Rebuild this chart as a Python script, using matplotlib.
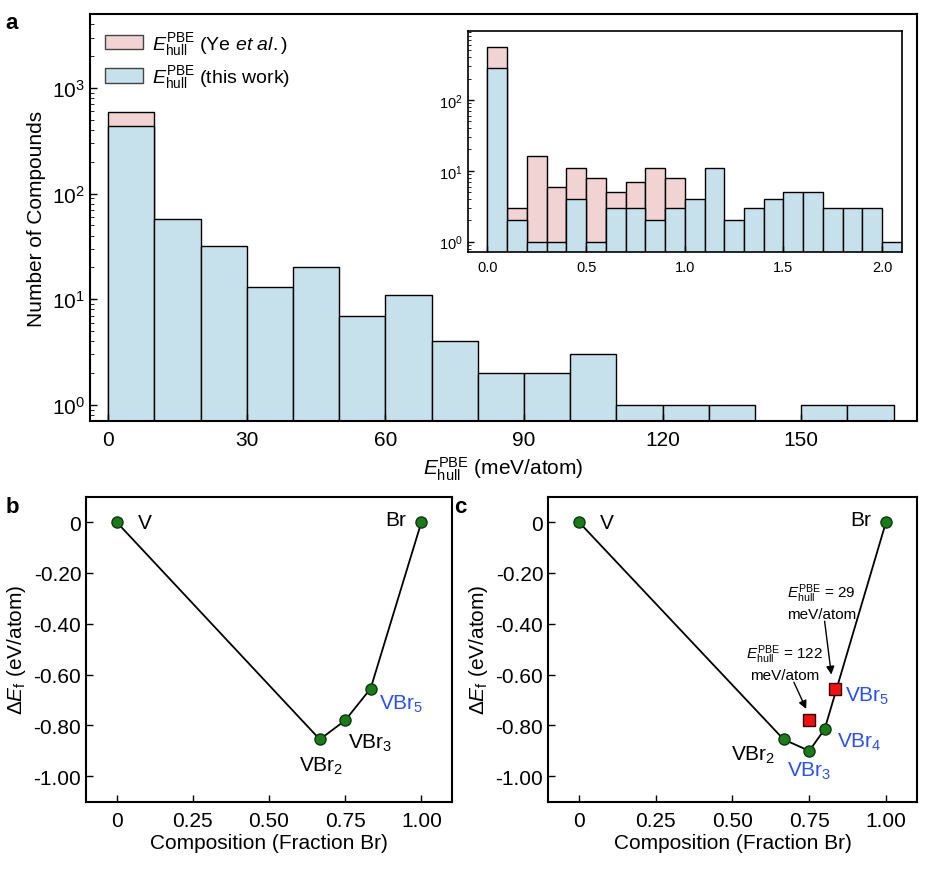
import numpy as np
import matplotlib
matplotlib.use("Agg")
from matplotlib import pyplot as plt
from matplotlib.ticker import FixedLocator, FuncFormatter, LogLocator, NullFormatter

plt.rcParams['font.family'] = ['Liberation Sans', 'DejaVu Sans']
plt.rcParams['mathtext.fontset'] = 'custom'
plt.rcParams['mathtext.rm'] = 'Liberation Sans'
plt.rcParams['mathtext.it'] = 'Liberation Sans:italic'
plt.rcParams['mathtext.bf'] = 'Liberation Sans:bold'

# panel a: histogram, 10 meV/atom bins
main_edges = [0, 10, 20, 30, 40, 50, 60, 70, 80, 90, 100, 110, 120, 130, 140, 150, 160, 170]
main_this_work = [440, 57, 32, 13, 20, 7, 11, 4, 2, 2, 3, 1, 1, 1, 0, 1, 1]
main_ye = [590, 0, 0, 0, 0, 0, 0, 0, 0, 0, 0, 0, 0, 0, 0, 0, 0]

# inset: 0.1 eV/atom bins
inset_edges = [0.0, 0.1, 0.2, 0.3, 0.4, 0.5, 0.6, 0.7, 0.8, 0.9, 1.0, 1.1,
               1.2, 1.3, 1.4, 1.5, 1.6, 1.7, 1.8, 1.9, 2.0, 2.1]
inset_ye = [550, 3, 16, 6, 11, 8, 5, 7, 11, 8, 0, 0, 0, 0, 0, 0, 0, 0, 0, 0, 0]
inset_this_work = [280, 2, 1, 1, 4, 1, 3, 3, 2, 3, 4, 11, 2, 3, 4, 5, 5, 3, 3, 3, 1]

# panel b: hull from Ye et al.
b_x = [0.0, 2 / 3, 0.75, 5 / 6, 1.0]
b_y = [0.0, -0.855, -0.78, -0.655, 0.0]

# panel c: hull from this work
c_x = [0.0, 2 / 3, 0.75, 0.8, 1.0]
c_y = [0.0, -0.855, -0.90, -0.815, 0.0]
c_unstable_x = [0.75, 5 / 6]
c_unstable_y = [-0.78, -0.655]

PINK = '#f2d3d3'
BLUE = '#c6e1eb'
GREEN = '#1c7a1c'
LABEL_BLUE = '#2a50f0'
EHULL = r'$E_{\mathrm{hull}}^{\mathrm{PBE}}$'

fig = plt.figure(figsize=(9.26, 8.87), dpi=100)


def draw_hist(ax, edges, counts, color):
    edges = np.asarray(edges)
    counts = np.asarray(counts, dtype=float)
    keep = counts > 0
    widths = np.diff(edges)
    ax.bar(edges[:-1][keep], counts[keep], width=widths[keep], align='edge',
           color=color, edgecolor='black', linewidth=1.0, bottom=1e-3)


def style_ticks(ax):
    ax.tick_params(direction='in', which='both', top=False, right=False)


# ---- panel a ----
ax = fig.add_axes([0.097, 0.524, 0.893, 0.459])
ax.set_yscale('log')
draw_hist(ax, main_edges, main_ye, PINK)
draw_hist(ax, main_edges, main_this_work, BLUE)
ax.set_xlim(-4, 175)
ax.set_ylim(0.7, 5000)
ax.set_xticks([0, 30, 60, 90, 120, 150])
ax.yaxis.set_major_locator(LogLocator(base=10, numticks=10))
ax.yaxis.set_minor_locator(LogLocator(base=10, subs=np.arange(2, 10), numticks=10))
ax.yaxis.set_minor_formatter(NullFormatter())
style_ticks(ax)
ax.tick_params(labelsize=15, length=5, width=1)
ax.tick_params(axis='x', pad=6)
ax.tick_params(which='minor', length=3)
ax.set_xlabel(EHULL + ' (meV/atom)', fontsize=15)
ax.set_ylabel('Number of Compounds', fontsize=15)
for sp in ax.spines.values():
    sp.set_linewidth(1.5)

handles = [plt.Rectangle((0, 0), 1, 1, facecolor=PINK, edgecolor='#444444'),
           plt.Rectangle((0, 0), 1, 1, facecolor=BLUE, edgecolor='#444444')]
ax.legend(handles, [EHULL + r' (Ye $et\ al.$)', EHULL + ' (this work)'],
          loc='upper left', frameon=False, fontsize=14, handlelength=1.95,
          handleheight=0.75, handletextpad=0.45, borderaxespad=0.4,
          labelspacing=0.35, bbox_to_anchor=(0.0, 1.0))
fig.text(0.006, 0.985, 'a', fontsize=16, fontweight='bold', va='top')

# ---- inset ----
axi = fig.add_axes([0.505, 0.715, 0.469, 0.249])
axi.set_yscale('log')
draw_hist(axi, inset_edges, inset_ye, PINK)
draw_hist(axi, inset_edges, inset_this_work, BLUE)
axi.set_xlim(-0.1, 2.1)
axi.set_ylim(0.72, 940)
axi.set_xticks([0.0, 0.5, 1.0, 1.5, 2.0])
axi.xaxis.set_major_formatter(FuncFormatter(lambda v, p: f'{v:.1f}'))
axi.yaxis.set_major_locator(LogLocator(base=10, numticks=10))
axi.yaxis.set_minor_locator(LogLocator(base=10, subs=np.arange(2, 10), numticks=10))
axi.yaxis.set_minor_formatter(NullFormatter())
style_ticks(axi)
axi.tick_params(labelsize=10.5, length=4, width=1)
axi.tick_params(axis='x', length=4, pad=6)
axi.tick_params(which='minor', length=2)
for sp in axi.spines.values():
    sp.set_linewidth(1.2)


# ---- panels b and c ----
def fmt_tick(v, p):
    if abs(v) < 1e-9:
        return '0'
    return f'{v:.2f}'


def hull_axes(rect):
    axh = fig.add_axes(rect)
    axh.set_xlim(-0.1, 1.1)
    axh.set_ylim(-1.1, 0.1)
    axh.xaxis.set_major_locator(FixedLocator([0, 0.25, 0.5, 0.75, 1.0]))
    axh.yaxis.set_major_locator(FixedLocator([0, -0.2, -0.4, -0.6, -0.8, -1.0]))
    axh.xaxis.set_major_formatter(FuncFormatter(fmt_tick))
    axh.yaxis.set_major_formatter(FuncFormatter(fmt_tick))
    style_ticks(axh)
    axh.tick_params(labelsize=15, length=5, width=1)
    axh.tick_params(axis='x', pad=7)
    axh.set_xlabel('Composition (Fraction Br)', fontsize=15, labelpad=2)
    axh.set_ylabel(r'$\Delta E_{\mathrm{f}}$ (eV/atom)', fontsize=15, labelpad=4)
    for sp in axh.spines.values():
        sp.set_linewidth(1.5)
    return axh


axb = hull_axes([0.093, 0.095, 0.395, 0.344])
axb.plot(b_x, b_y, color='black', lw=1.3, zorder=2)
axb.plot(b_x, b_y, 'o', ms=8, mfc=GREEN, mec='#0a3a0a', mew=1.0, zorder=3)
axb.text(0.07, 0.0, 'V', fontsize=15, va='center', ha='left')
axb.text(0.95, 0.01, 'Br', fontsize=15, va='center', ha='right')
axb.text(0.67, -0.915, r'VBr$_2$', fontsize=15, ha='center', va='top')
axb.text(0.76, -0.825, r'VBr$_3$', fontsize=15, ha='left', va='top')
axb.text(0.86, -0.67, r'VBr$_5$', fontsize=15, ha='left', va='top', color=LABEL_BLUE)
fig.text(0.006, 0.44, 'b', fontsize=16, fontweight='bold', va='top')

axc = hull_axes([0.592, 0.095, 0.398, 0.344])
axc.plot(c_x, c_y, color='black', lw=1.3, zorder=2)
axc.plot(c_x, c_y, 'o', ms=8, mfc=GREEN, mec='#0a3a0a', mew=1.0, zorder=3)
axc.plot(c_unstable_x, c_unstable_y, 's', ms=8, mfc='#ee1111', mec='#330000',
         mew=1.0, zorder=3)
axc.text(0.07, 0.0, 'V', fontsize=15, va='center', ha='left')
axc.text(0.95, 0.01, 'Br', fontsize=15, va='center', ha='right')
axc.text(0.64, -0.87, r'VBr$_2$', fontsize=15, ha='right', va='top')
axc.text(0.75, -0.935, r'VBr$_3$', fontsize=15, ha='center', va='top', color=LABEL_BLUE)
axc.text(0.84, -0.82, r'VBr$_4$', fontsize=15, ha='left', va='top', color=LABEL_BLUE)
axc.text(0.865, -0.64, r'VBr$_5$', fontsize=15, ha='left', va='top', color=LABEL_BLUE)

axc.text(0.79, -0.31, EHULL + ' = 29\nmeV/atom', fontsize=11, ha='center',
         va='center', linespacing=1.3)
axc.annotate('', xy=(0.822, -0.60), xytext=(0.80, -0.39),
             arrowprops=dict(arrowstyle='-|>', color='black', lw=1.0,
                             shrinkA=0, shrinkB=0, mutation_scale=12))
axc.text(0.67, -0.55, EHULL + ' = 122\nmeV/atom', fontsize=11, ha='center',
         va='center', linespacing=1.3)
axc.annotate('', xy=(0.74, -0.735), xytext=(0.70, -0.63),
             arrowprops=dict(arrowstyle='-|>', color='black', lw=1.0,
                             shrinkA=0, shrinkB=0, mutation_scale=12))
fig.text(0.49, 0.44, 'c', fontsize=16, fontweight='bold', va='top')

fig.savefig('out.png', dpi=100)
